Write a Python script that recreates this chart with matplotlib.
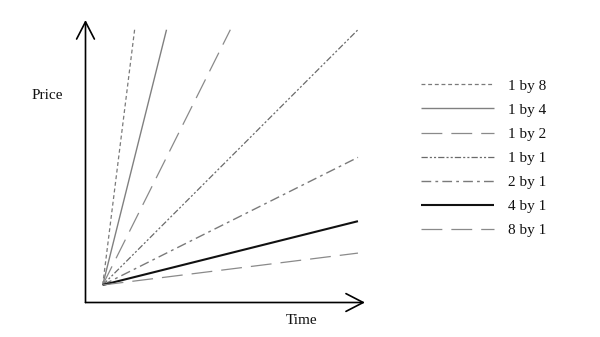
import matplotlib
matplotlib.use("Agg")
import matplotlib.pyplot as plt
import numpy as np

plt.rcParams['font.family'] = ['Liberation Serif', 'DejaVu Serif']
plt.rcParams['lines.scale_dashes'] = False

labels = ["1 by 8", "1 by 4", "1 by 2", "1 by 1", "2 by 1", "4 by 1", "8 by 1"]
slopes = [8, 4, 2, 1, 0.5, 0.25, 0.125]
styles = [
    dict(color="#7a7a7a", lw=0.9, ls=(0, (2.8, 2.0))),
    dict(color="#808080", lw=1.0, ls="-"),
    dict(color="#8a8a8a", lw=0.9, ls=(0, (15, 6.5))),
    dict(color="#6a6a6a", lw=0.9, ls=(0, (4.5, 1.5, 1.5, 1.5, 1.5, 1.5))),
    dict(color="#7a7a7a", lw=1.0, ls=(0, (7, 3, 2, 3))),
    dict(color="#111111", lw=1.5, ls="-"),
    dict(color="#8a8a8a", lw=0.9, ls=(0, (15, 6.5))),
]

fig = plt.figure(figsize=(6.0, 3.37), dpi=100)
ax = fig.add_axes([0, 0, 1, 1])
u = 254.0
ox, oy = 102.7, 285.0
ax.set_xlim(-ox / u, (600 - ox) / u)
ax.set_ylim((oy - 337) / u, oy / u)
ax.axis("off")

extent = 1.005
for lab, s, st in zip(labels, slopes, styles):
    xe = min(extent, extent / s)
    ax.plot([0, xe], [0, s * xe], label=lab, solid_capstyle="butt",
            dash_capstyle="butt", **st)

# axes with arrows
ax0x = (85.5 - ox) / u
ax0y = (oy - 302.5) / u
ytop = (oy - 20) / u
xright = (365 - ox) / u
arrow = dict(arrowstyle="->,head_length=0.62,head_width=0.32", lw=1.2,
             color="black", shrinkA=0, shrinkB=0, mutation_scale=20)
ax.annotate("", xy=(ax0x, ytop), xytext=(ax0x, ax0y), arrowprops=arrow)
ax.annotate("", xy=(xright, ax0y), xytext=(ax0x, ax0y), arrowprops=arrow)

ax.text((47 - ox) / u, (oy - 95) / u, "Price", fontsize=11, ha="center",
        va="center", color="#111111")
ax.text((302 - ox) / u, (oy - 321) / u, "Time", fontsize=11, ha="center",
        va="center", color="#111111")

leg = ax.legend(loc="upper left", bbox_to_anchor=(421 / 600, 1 - 79 / 337),
                bbox_transform=fig.transFigure, frameon=False, fontsize=11,
                handlelength=4.75, handletextpad=0.95, labelspacing=0.68,
                borderpad=0, borderaxespad=0)
for t in leg.get_texts():
    t.set_color("#111111")

fig.savefig("out.png", dpi=100)
